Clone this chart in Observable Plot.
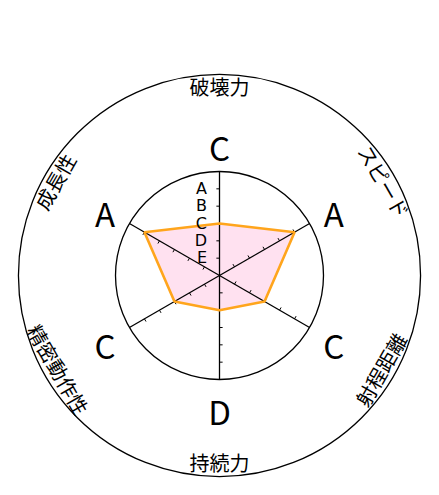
<!DOCTYPE html>
<html>
<head>
<meta charset="utf-8">
<script src="https://cdn.jsdelivr.net/npm/d3@7"></script>
<script src="https://cdn.jsdelivr.net/npm/@observablehq/plot@0.6"></script>
<style>
html,body{margin:0;padding:0;background:#fff;}
</style>
</head>
<body>
<div id="chart"></div>
<script>
// Data
const axesNames = ["破壊力", "スピード", "射程距離", "持続力", "精密動作性", "成長性"];
const grades = ["C", "A", "C", "D", "C", "A"];
const gradeScale = ["E", "D", "C", "B", "A"]; // levels 1..5
const levels = [1, 2, 3, 4, 5];
const ringRadii = [6, 11.6];

const value = g => gradeScale.indexOf(g) + 1;
const angleOf = i => i * Math.PI * 2 / axesNames.length; // clockwise from top
const px = (i, r) => r * Math.sin(angleOf(i));
const py = (i, r) => r * Math.cos(angleOf(i));

const poly = grades.map((g, i) => ({x: px(i, value(g)), y: py(i, value(g))}));
const spokes = axesNames.map((n, i) => ({x1: 0, y1: 0, x2: px(i, 6), y2: py(i, 6)}));
const tickLen = 0.18;
const ticks = [];
axesNames.forEach((n, i) => {
  const a = angleOf(i);
  levels.forEach(l => {
    const x = px(i, l), y = py(i, l);
    ticks.push({x1: x, y1: y, x2: x - Math.cos(a) * tickLen, y2: y + Math.sin(a) * tickLen});
  });
});
const tickLabels = levels.map((l, k) => ({x: -0.72, y: l, t: gradeScale[k]}));
const gradeLabels = grades.map((g, i) => ({x: px(i, 7.62), y: py(i, 7.62), t: g}));
const nameLabels = axesNames.map((n, i) => {
  const deg = i * 360 / axesNames.length;
  const rot = ((deg + 90) % 180) - 90;
  return {x: px(i, 10.85), y: py(i, 10.85), t: n, rot};
});

const cx = 219, cy = 275, R = 104;
const font = "'Noto Sans CJK JP', 'Noto Sans', sans-serif";

const chart = Plot.plot({
  width: 439,
  height: 495,
  x: {domain: [-6, 6], range: [cx - R, cx + R], axis: null},
  y: {domain: [-6, 6], range: [cy + R, cy - R], axis: null},
  r: {type: "linear", domain: [0, 6], range: [0, R]},
  marks: [
    Plot.line(poly, {x: "x", y: "y", curve: "linear-closed", fill: "hotpink", fillOpacity: 0.2, stroke: "none"}),
    Plot.dot(ringRadii, {x: () => 0, y: () => 0, r: d => d, fill: "none", stroke: "black", strokeWidth: 1.3}),
    Plot.link(spokes, {x1: "x1", y1: "y1", x2: "x2", y2: "y2", stroke: "black", strokeWidth: 1.3}),
    Plot.link(ticks, {x1: "x1", y1: "y1", x2: "x2", y2: "y2", stroke: "black", strokeWidth: 1}),
    Plot.line(poly, {x: "x", y: "y", curve: "linear-closed", stroke: "#FFA51C", strokeWidth: 2.6, strokeLinejoin: "miter"}),
    Plot.text(tickLabels, {x: "x", y: "y", text: "t", textAnchor: "end", fontSize: 16, fill: "black", fontFamily: "'DejaVu Sans', sans-serif"}),
    Plot.text(gradeLabels, {x: "x", y: "y", text: "t", dy: 7, fontSize: 33, fill: "black", fontFamily: font}),
    Plot.text(nameLabels, {x: "x", y: "y", text: "t", dy: 1, rotate: "rot", fontSize: 20, fill: "black", fontFamily: font})
  ]
});
// clip axis names to the outer circle, as in the reference
const svg = d3.select(chart);
const defs = svg.append("defs");
defs.append("clipPath").attr("id", "outerClip")
  .append("circle").attr("cx", cx).attr("cy", cy).attr("r", 11.6 * R / 6);
const textGroups = svg.selectAll("g[aria-label='text']").nodes();
d3.select(textGroups[textGroups.length - 1]).attr("clip-path", "url(#outerClip)");
document.getElementById("chart").appendChild(chart);
</script>
</body>
</html>
